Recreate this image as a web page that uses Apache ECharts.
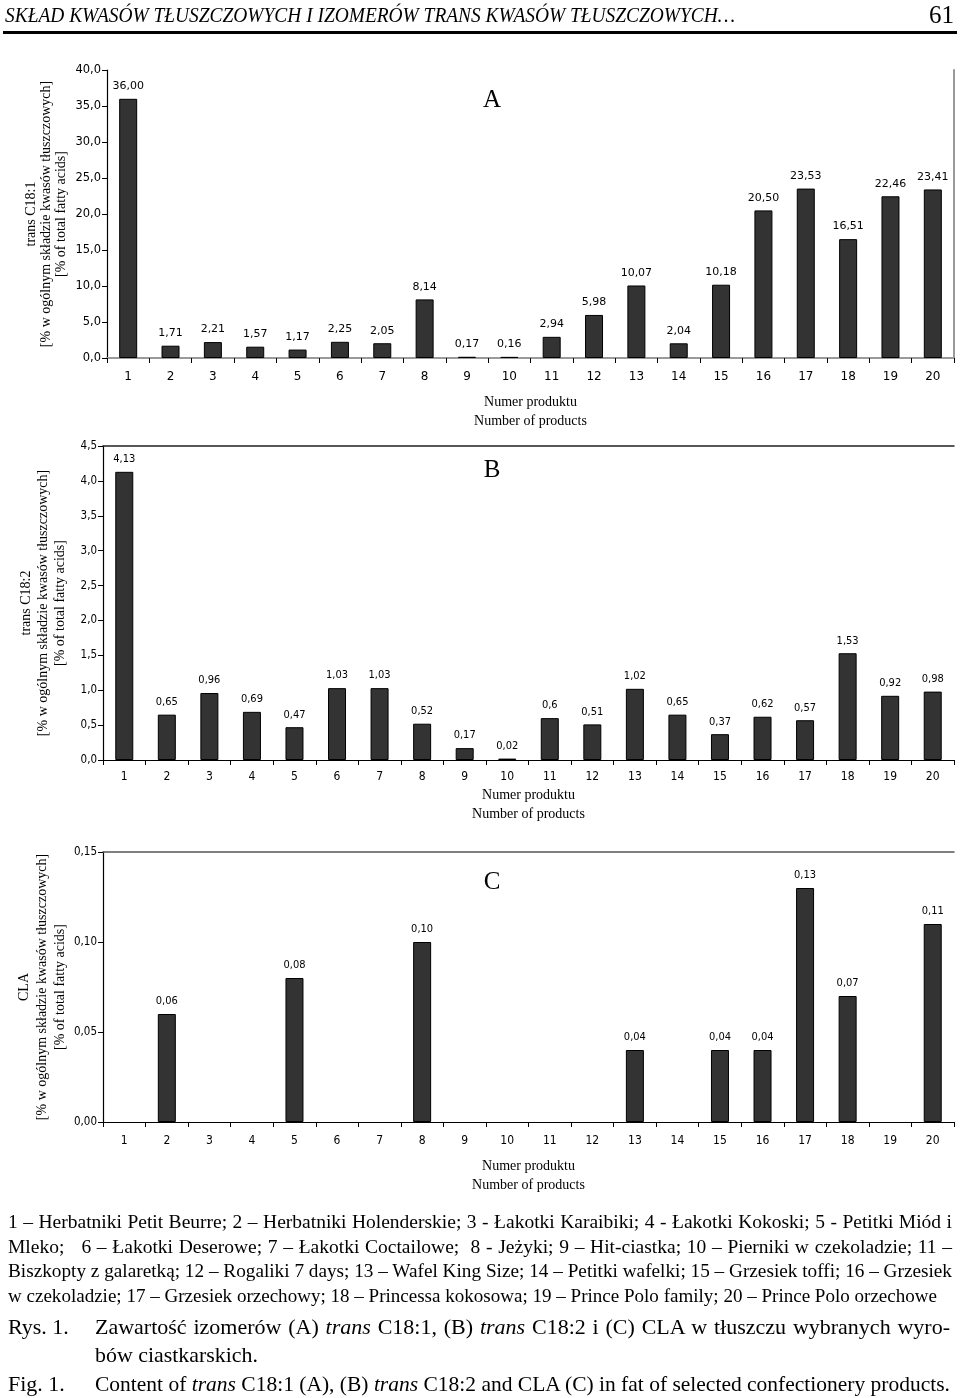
<!DOCTYPE html>
<html>
<head>
<meta charset="utf-8">
<script src="https://cdn.jsdelivr.net/npm/echarts@6/dist/echarts.min.js"></script>
<style>
  html, body { margin: 0; padding: 0; background: #fff; }
  #page { position: relative; width: 960px; height: 1398px; overflow: hidden; background: #fff; }
  #chart { position: absolute; left: 0; top: 0; width: 960px; height: 1398px; }
  .t { position: absolute; white-space: nowrap; font-family: 'Liberation Serif', 'Times New Roman', serif; color: #000; transform-origin: 0 50%; }
  #hdr { left: 5px; top: 4px; font-size: 20px; font-style: italic; }
  #pg { right: 6px; top: 1px; font-size: 25px; }
  #rule { position: absolute; left: 3px; top: 31px; width: 954px; height: 3px; background: #000; }
  .cap { font-size: 19.5px; line-height: 22px; }
  .big { font-size: 22px; line-height: 26px; }
</style>
</head>
<body>
<div id="page">
  <div id="chart"></div>
  <div id="hdr" class="t" data-w="730">SKŁAD KWASÓW TŁUSZCZOWYCH I IZOMERÓW TRANS KWASÓW TŁUSZCZOWYCH…</div>
  <div id="pg" class="t">61</div>
  <div id="rule"></div>
  <div class="t cap" style="left:8px;top:1211px" data-w="944">1 – Herbatniki Petit Beurre; 2 – Herbatniki Holenderskie; 3 - Łakotki Karaibiki; 4 - Łakotki Kokoski; 5 - Petitki Miód i</div>
  <div class="t cap" style="left:8px;top:1236px" data-w="944">Mleko;&nbsp;&nbsp; 6 – Łakotki Deserowe; 7 – Łakotki Coctailowe;&nbsp; 8 - Jeżyki; 9 – Hit-ciastka; 10 – Pierniki w czekoladzie; 11 –</div>
  <div class="t cap" style="left:8px;top:1260px" data-w="944">Biszkopty z galaretką; 12 – Rogaliki 7 days; 13 – Wafel King Size; 14 – Petitki wafelki; 15 – Grzesiek toffi; 16 – Grzesiek</div>
  <div class="t cap" style="left:8px;top:1285px" data-w="929">w czekoladzie; 17 – Grzesiek orzechowy; 18 – Princessa kokosowa; 19 – Prince Polo family; 20 – Prince Polo orzechowe</div>
  <div class="t big" style="left:8px;top:1314px">Rys. 1.</div>
  <div class="t big" style="left:95px;top:1314px" data-w="855">Zawartość izomerów (A) <i>trans</i> C18:1, (B) <i>trans</i> C18:2 i (C) CLA w tłuszczu wybranych wyro-</div>
  <div class="t big" style="left:95px;top:1342px" data-w="163">bów ciastkarskich.</div>
  <div class="t big" style="left:8px;top:1371px">Fig. 1.</div>
  <div class="t big" style="left:95px;top:1371px" data-w="855">Content of <i>trans</i> C18:1 (A), (B) <i>trans</i> C18:2 and CLA (C) in fat of selected confectionery products.</div>
</div>
<script>
// ---------------- DATA ----------------
const categories = ['1','2','3','4','5','6','7','8','9','10','11','12','13','14','15','16','17','18','19','20'];
const transC181 = [36.00, 1.71, 2.21, 1.57, 1.17, 2.25, 2.05, 8.14, 0.17, 0.16, 2.94, 5.98, 10.07, 2.04, 10.18, 20.50, 23.53, 16.51, 22.46, 23.41];
const transC182 = [4.13, 0.65, 0.96, 0.69, 0.47, 1.03, 1.03, 0.52, 0.17, 0.02, 0.6, 0.51, 1.02, 0.65, 0.37, 0.62, 0.57, 1.53, 0.92, 0.98];
const cla = [null, 0.06, null, null, 0.08, null, null, 0.10, null, null, null, null, 0.04, null, 0.04, 0.04, 0.13, 0.07, null, 0.11];
const panelLetters = ['A', 'B', 'C'];
const yNames = [
  'trans C18:1\n[% w ogólnym składzie kwasów tłuszczowych]\n[% of total fatty acids]',
  'trans C18:2\n[% w ogólnym składzie kwasów tłuszczowych]\n[% of total fatty acids]',
  'CLA\n[% w ogólnym składzie kwasów tłuszczowych]\n[% of total fatty acids]'
];
const xName = 'Numer produktu\nNumber of products';
const yScales = [ {min: 0, max: 40, interval: 5, dec: 1}, {min: 0, max: 4.5, interval: 0.5, dec: 1}, {min: 0, max: 0.15, interval: 0.05, dec: 2} ];

// ---------------- LAYOUT ----------------
const grids = [
  {left: 107, top: 70, width: 847, height: 288},
  {left: 103, top: 446, width: 851, height: 314},
  {left: 103, top: 852, width: 851, height: 270}
];
const labelFontA = "'DejaVu Sans', Verdana, sans-serif";
const labelFontBC = "'Liberation Sans Narrow', 'DejaVu Sans Condensed', 'Liberation Sans', sans-serif";
const serif = "'Liberation Serif', 'Times New Roman', serif";
const fonts = [labelFontA, labelFontBC, labelFontBC];
const xNameGaps = [35, 26, 35];
const yNameGaps = [38, 34, 34];
const yNameLineHeights = [15, 17, 18];
const labelMargins = [13, 11, 13];
const topLineColors = ['#9a9a9a', '#222', '#555'];

const comma = s => String(s).replace('.', ',');

const xAxes = [], yAxes = [], series = [];
grids.forEach((g, i) => {
  xAxes.push({
    gridIndex: i, type: 'category', data: categories, position: 'bottom',
    axisLine: {lineStyle: {color: '#000', width: 1.2}},
    axisTick: {show: true, length: 5, lineStyle: {color: '#000'}},
    axisLabel: {fontFamily: fonts[i], fontSize: 12, color: '#000', margin: labelMargins[i]},
    name: xName, nameLocation: 'middle', nameGap: xNameGaps[i], nameMoveOverlap: false,
    nameTextStyle: {fontFamily: serif, fontSize: 14, lineHeight: 19, color: '#000'}
  });
  xAxes.push({
    gridIndex: i, type: 'category', data: categories, position: 'top',
    axisLine: {lineStyle: {color: topLineColors[i], width: i === 0 ? 2 : 1.5}},
    axisTick: {show: false}, axisLabel: {show: false}
  });
  const s = yScales[i];
  yAxes.push({
    gridIndex: i, type: 'value', min: s.min, max: s.max, interval: s.interval, position: 'left',
    splitLine: {show: false},
    axisLine: {show: true, lineStyle: {color: '#000', width: 1.2}},
    axisTick: {show: true, length: 5, lineStyle: {color: '#000'}},
    axisLabel: {fontFamily: fonts[i], fontSize: 11.5, color: '#000', margin: 6,
      formatter: v => comma(Number(v).toFixed(s.dec))},
    name: yNames[i], nameLocation: 'middle', nameGap: yNameGaps[i], nameMoveOverlap: false,
    nameTextStyle: {fontFamily: serif, fontSize: 14, lineHeight: yNameLineHeights[i], color: '#000'}
  });
});
// right border of panel A
yAxes.push({
  gridIndex: 0, type: 'value', min: 0, max: 40, interval: 5, position: 'right',
  splitLine: {show: false}, axisTick: {show: false}, axisLabel: {show: false},
  axisLine: {show: true, lineStyle: {color: '#9a9a9a', width: 2}}
});

const dataSets = [transC181, transC182, cla];
const labelFmt = [
  p => comma(Number(p.value).toFixed(2)),
  p => comma(p.value),
  p => comma(Number(p.value).toFixed(2))
];
dataSets.forEach((d, i) => {
  series.push({
    type: 'bar', xAxisIndex: i * 2, yAxisIndex: i, data: d, barWidth: 18,
    itemStyle: {color: '#333333', borderColor: '#000', borderWidth: 1},
    label: {show: true, position: 'top', distance: 7, fontFamily: fonts[i], fontSize: 11, color: '#000',
      formatter: labelFmt[i]},
    emphasis: {disabled: true}
  });
});

const letterPos = [[492, 100], [492, 470], [492, 882]];
const chart = echarts.init(document.getElementById('chart'), null, {renderer: 'canvas'});
chart.setOption({
  animation: false,
  backgroundColor: 'transparent',
  grid: grids.map(g => Object.assign({containLabel: false}, g)),
  xAxis: xAxes,
  yAxis: yAxes,
  series: series,
  graphic: panelLetters.map((t, i) => ({
    type: 'text', x: letterPos[i][0], y: letterPos[i][1],
    style: {text: t, fontFamily: serif, fontSize: 25, fill: '#000', align: 'center', verticalAlign: 'middle'}
  }))
});

// fit text lines to their measured widths in the reference
document.querySelectorAll('[data-w]').forEach(el => {
  const target = +el.dataset.w;
  const w = el.getBoundingClientRect().width;
  if (w > target) {
    el.style.transform = 'scaleX(' + (target / w) + ')';
  } else {
    const spaces = (el.textContent.match(/[ \u00a0]/g) || []).length;
    if (spaces) el.style.wordSpacing = ((target - w) / spaces) + 'px';
  }
});
</script>
</body>
</html>
